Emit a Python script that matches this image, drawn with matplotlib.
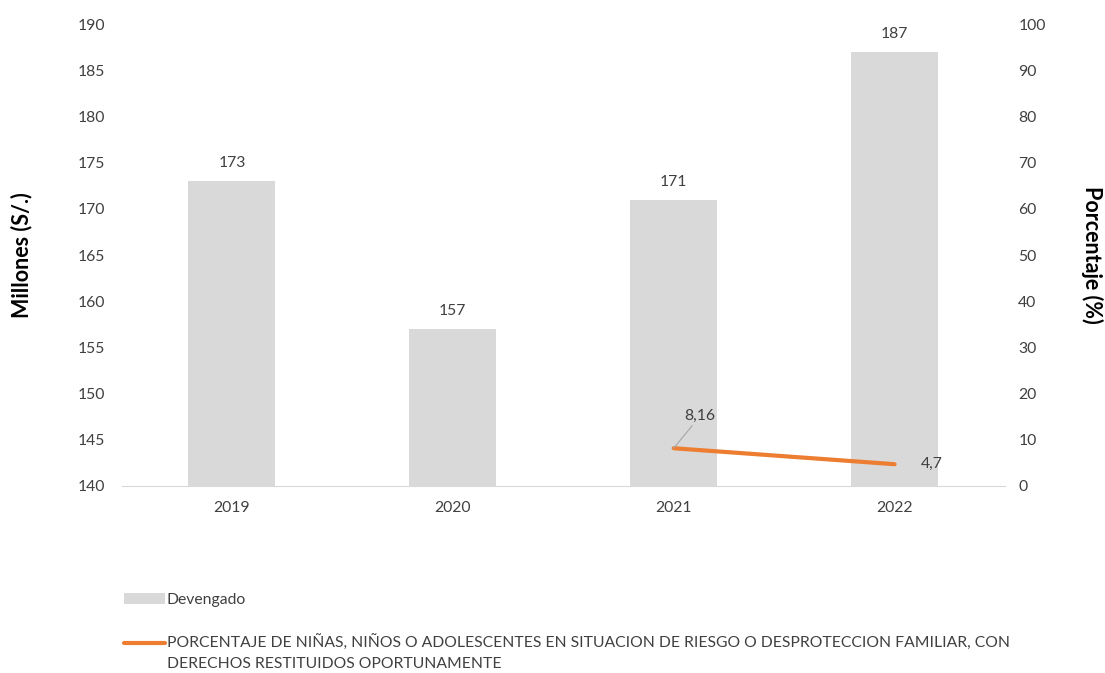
import matplotlib.pyplot as plt
import numpy as np

plt.rcParams['font.family'] = ['Lato', 'DejaVu Sans']

years = ['2019', '2020', '2021', '2022']
devengado = [173, 157, 171, 187]
pct_years = ['2021', '2022']
porcentaje = [8.16, 4.7]
pct_labels = ['8,16', '4,7']

legend_bar = 'Devengado'
legend_line_1 = 'PORCENTAJE DE NIÑAS, NIÑOS O ADOLESCENTES EN SITUACION DE RIESGO O DESPROTECCION FAMILIAR, CON'
legend_line_2 = 'DERECHOS RESTITUIDOS OPORTUNAMENTE'

fs = 11.3
txt = '#404040'

fig = plt.figure(figsize=(11.05, 6.73), dpi=100)
ax = fig.add_axes([0.110, 0.278, 0.7995, 0.686])

x = np.arange(len(years))
bars = ax.bar(x, devengado, width=0.394, color='#d9d9d9', label=legend_bar)
ax.set_ylim(140, 190)
ax.set_yticks(range(140, 191, 5))
ax.set_xlim(-0.5, len(years) - 0.5)
ax.set_xticks(x)
ax.set_xticklabels(years)
for xi, v in zip(x, devengado):
    ax.text(xi, v + 1.2, str(v), ha='center', va='bottom', fontsize=fs, color=txt)

for s in ['top', 'left', 'right']:
    ax.spines[s].set_visible(False)
ax.spines['bottom'].set_color('#d9d9d9')
ax.tick_params(axis='x', length=0, labelsize=fs, colors=txt, pad=11)
ax.tick_params(axis='y', length=0, labelsize=fs, colors=txt, pad=12)
ax.set_ylabel('Millones (S/.)', fontsize=15.5, fontweight='bold', va='center')
ax.yaxis.set_label_coords(-0.113, 0.5)

ax2 = ax.twinx()
px = [years.index(y) for y in pct_years]
line, = ax2.plot(px, porcentaje, color='#ed7d31', linewidth=3, label=legend_line_1,
                 solid_capstyle='round')
ax2.set_ylim(0, 100)
ax2.set_yticks(range(0, 101, 10))
for s in ['top', 'left', 'right', 'bottom']:
    ax2.spines[s].set_visible(False)
ax2.tick_params(axis='y', length=0, labelsize=fs, colors=txt, pad=9.5)
ax2.set_ylabel('Porcentaje (%)', fontsize=15.5, fontweight='bold', rotation=270, va='center')
ax2.yaxis.set_label_coords(1.099, 0.5)

# data labels for the line
ax2.annotate(pct_labels[0], xy=(px[0], porcentaje[0]), xytext=(px[0] + 0.12, porcentaje[0] + 5.5),
             fontsize=fs, color=txt, ha='center', va='bottom',
             arrowprops=dict(arrowstyle='-', color='#a6a6a6', lw=0.8, shrinkA=0, shrinkB=0))
ax2.text(px[1] + 0.12, porcentaje[1], pct_labels[1], fontsize=fs, color=txt,
         ha='left', va='center')

leg = fig.legend(handles=[bars, line], labels=[legend_bar, legend_line_1], loc='upper left',
                 bbox_to_anchor=(0.112, 0.119), borderpad=0, borderaxespad=0,
                 frameon=False, fontsize=fs, handlelength=2.6, handletextpad=0.15,
                 labelspacing=1.8, labelcolor=txt)

# second line of the long legend label, placed under the first one
fig.canvas.draw()
t = leg.get_texts()[1]
bb = t.get_window_extent().transformed(fig.transFigure.inverted())
fig.text(bb.x0, bb.y0 - 0.008, legend_line_2, fontsize=fs, color=txt, ha='left', va='top')

fig.savefig('out.png', dpi=100)
